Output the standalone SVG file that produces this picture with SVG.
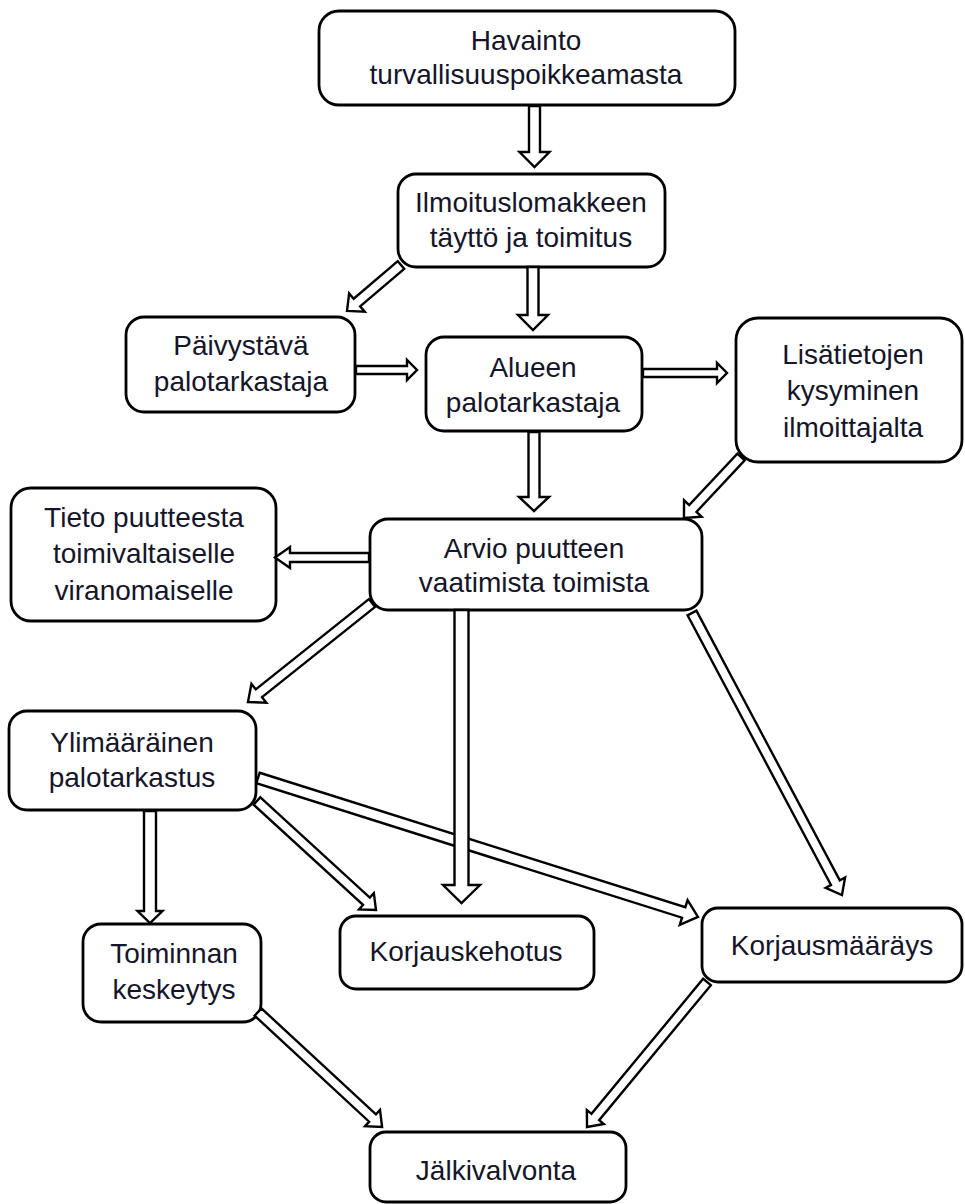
<svg xmlns="http://www.w3.org/2000/svg" width="965" height="1204" viewBox="0 0 965 1204">
<style>
.box{fill:#fff;stroke:#000;stroke-width:2.8}
.t{font-family:"Liberation Sans",Arial,sans-serif;font-size:28px;fill:#15152a;text-anchor:middle}
.ar{fill:#fff;stroke:#000;stroke-width:2.4;stroke-linejoin:miter}
</style>
<rect width="965" height="1204" fill="#fff"/>
<g id="n1"><rect class="box" x="319" y="11" width="416" height="94" rx="20"/><text class="t" x="526" y="50">Havainto</text><text class="t" x="526" y="84">turvallisuuspoikkeamasta</text></g>
<g id="n2"><rect class="box" x="398" y="174" width="267" height="93" rx="18"/><text class="t" x="531" y="212">Ilmoituslomakkeen</text><text class="t" x="531" y="247">täyttö ja toimitus</text></g>
<g id="n3"><rect class="box" x="126" y="317" width="229" height="95" rx="18"/><text class="t" x="241" y="355">Päivystävä</text><text class="t" x="241" y="391">palotarkastaja</text></g>
<g id="n4"><rect class="box" x="426" y="337" width="216" height="94" rx="18"/><text class="t" x="533" y="377">Alueen</text><text class="t" x="533" y="412">palotarkastaja</text></g>
<g id="n5"><rect class="box" x="736" y="318" width="226" height="144" rx="22"/><text class="t" x="853" y="364">Lisätietojen</text><text class="t" x="853" y="400">kysyminen</text><text class="t" x="853" y="437">ilmoittajalta</text></g>
<g id="n6"><rect class="box" x="370" y="519" width="332" height="91" rx="18"/><text class="t" x="534" y="558">Arvio puutteen</text><text class="t" x="534" y="592">vaatimista toimista</text></g>
<g id="n7"><rect class="box" x="11" y="488" width="265" height="133" rx="20"/><text class="t" x="144" y="527">Tieto puutteesta</text><text class="t" x="144" y="563">toimivaltaiselle</text><text class="t" x="144" y="600">viranomaiselle</text></g>
<g id="n8"><rect class="box" x="9" y="711" width="247" height="99" rx="18"/><text class="t" x="132" y="752">Ylimääräinen</text><text class="t" x="132" y="787">palotarkastus</text></g>
<g id="n9"><rect class="box" x="83" y="924" width="178" height="98" rx="18"/><text class="t" x="174" y="963">Toiminnan</text><text class="t" x="174" y="999">keskeytys</text></g>
<g id="n10"><rect class="box" x="340" y="916" width="254" height="73" rx="16"/><text class="t" x="466" y="961">Korjauskehotus</text></g>
<g id="n11"><rect class="box" x="702" y="908" width="260" height="74" rx="16"/><text class="t" x="832" y="955">Korjausmääräys</text></g>
<g id="n12"><rect class="box" x="370" y="1132" width="256" height="70" rx="16"/><text class="t" x="496" y="1180">Jälkivalvonta</text></g>
<g id="connectors">
<path class="ar" d="M529,106 V152 H519.5 L534.5,167 L549.5,152 H540 V106 Z"/>
<path class="ar" d="M527.5,267 V315 H518 L533,330 L548,315 H538.5 V267 Z"/>
<path class="ar" transform="translate(401,265) rotate(139.6)" d="M0,-5 H57.9 V-12 L70.9,0 L57.9,12 V5 H0 Z"/>
<path class="ar" d="M356,366 H407 V360 L417,370 L407,380 V374 H356 Z"/>
<path class="ar" d="M643,369 H717 V363 L727,373 L717,383 V377 H643 Z"/>
<path class="ar" d="M528.5,432 V497 H519 L534,511 L549,497 H539.5 V432 Z"/>
<path class="ar" transform="translate(741,457) rotate(133.1)" d="M0,-5 H70.5 V-12 L83.5,0 L70.5,12 V5 H0 Z"/>
<path class="ar" d="M369,553 H290 V547 L275,557.5 L290,568 V562 H369 Z"/>
<path class="ar" transform="translate(372,603) rotate(141.4)" d="M0,-5 H144.7 V-12 L158.7,0 L144.7,12 V5 H0 Z"/>
<path class="ar" transform="translate(692,613) rotate(62)" d="M0,-5 H305.4 V-11 L319.4,0 L305.4,11 V5 H0 Z"/>
<path class="ar" d="M144,811 V911 H137.5 L150,923 L162.5,911 H156 V811 Z"/>
<path class="ar" transform="translate(257,801) rotate(42.5)" d="M0,-5 H148.4 V-11 L161.4,0 L148.4,11 V5 H0 Z"/>
<path class="ar" transform="translate(258,778) rotate(17.53)" d="M0,-5.5 H446.4 V-13 L461.4,0 L446.4,13 V5.5 H0 Z"/>
<path class="ar" d="M454.5,610 V885 H443 L461.5,903 L480,885 H468.5 V610 Z"/>
<path class="ar" transform="translate(258,1012) rotate(42.8)" d="M0,-5 H156.1 V-11 L169.1,0 L156.1,11 V5 H0 Z"/>
<path class="ar" transform="translate(707,982) rotate(129.6)" d="M0,-5 H175.2 V-11 L188.2,0 L175.2,11 V5 H0 Z"/>
</g>
</svg>
